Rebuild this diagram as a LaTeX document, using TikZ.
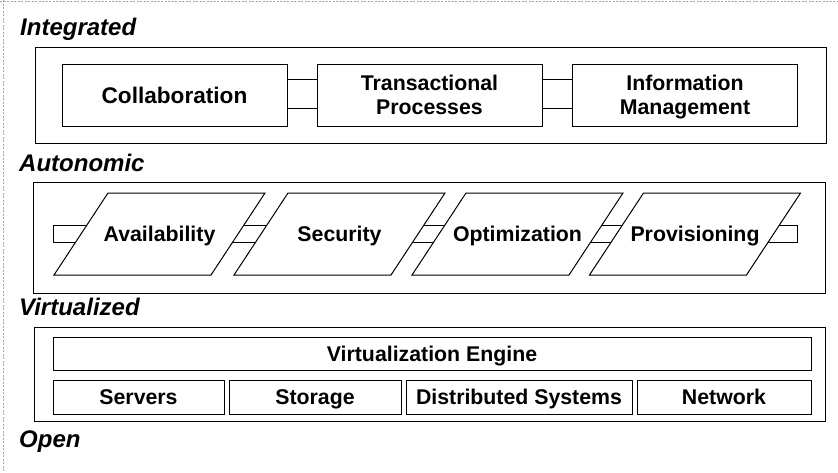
\documentclass[tikz,border=0pt]{standalone}
\usepackage{fontspec}
\setmainfont{Liberation Sans}
\usetikzlibrary{calc}
\begin{document}
\begin{tikzpicture}[x=1pt,y=-1pt,
  frame/.style={draw, line width=1pt},
  layer/.style={font=\fontsize{24}{28}\selectfont\bfseries\itshape, anchor=base west, inner sep=0},
  box/.style={draw, line width=1pt, font=\fontsize{21.3}{24}\selectfont\bfseries, align=center, inner sep=0, text depth=0pt},
  oneline/.style={text height=15.3pt},
  ptext/.style={font=\fontsize{21.3}{24}\selectfont\bfseries, inner sep=0, text height=15.3pt, text depth=0pt},
  pipe/.style={line width=1pt},
  edgeline/.style={gray!70, line width=0.5pt, dash pattern=on 2pt off 1.5pt},
]
\useasboundingbox (0,0) rectangle (838,472);

% faint page edges
\draw[edgeline] (0,1.5) -- (838,1.5);
\draw[edgeline] (3,0) -- (3,472);

% ---------------- Integrated ----------------
\node[layer] (lint) at (20,35) {Integrated};
\draw[frame] (35,47) rectangle (826,143);
\node[box, oneline, minimum width=225, minimum height=62, font=\fontsize{22.6}{24}\selectfont\bfseries, text height=16.2pt] (collab) at (174.5,95) {Collaboration};
\node[box, minimum width=225, minimum height=62] (trans) at (429.5,95) {Transactional\\Processes};
\node[box, minimum width=225, minimum height=62] (info) at (685,95) {Information\\Management};
\foreach \a/\b in {collab/trans, trans/info} {
  \draw[pipe] (\a.east |- 0,79.5) -- (\b.west |- 0,79.5);
  \draw[pipe] (\a.east |- 0,108) -- (\b.west |- 0,108);
}

% ---------------- Autonomic ----------------
\node[layer] (laut) at (19,171) {Autonomic};
\draw[frame] (33,182) rectangle (825,293);
\node[ptext] (avail)  at (159.5,234) {Availability};
\node[ptext] (secur)  at (339.5,234) {Security};
\node[ptext] (optim)  at (517.5,234) {Optimization};
\node[ptext] (provis) at (695,234)   {Provisioning};
\foreach \n in {avail, secur, optim, provis} {
  \draw[frame] ($(\n)+(-51.5,-41)$) -- ++(157,0) -- ++(-54,82) -- ++(-157,0) -- cycle;
}
\foreach \a/\b in {avail/secur, secur/optim, optim/provis} {
  \draw[pipe] ($(\a)+(84.4,-9)$) -- ($(\b)+(-72.6,-9)$);
  \draw[pipe] ($(\a)+(73.2,8)$) -- ($(\b)+(-83.8,8)$);
}
\coordinate (stubL) at (53,234);
\coordinate (stubR) at (797,234);
\draw[pipe] ($(avail)+(-72.6,-9)$) -- (stubL |- 0,225) -- (stubL |- 0,242) -- ($(avail)+(-83.8,8)$);
\draw[pipe] ($(provis)+(84.4,-9)$) -- (stubR |- 0,225) -- (stubR |- 0,242) -- ($(provis)+(73.2,8)$);

% ---------------- Virtualized ----------------
\node[layer] (lvir) at (19,315) {Virtualized};
\draw[frame] (34,327) rectangle (825,421);
\node[box, oneline, minimum width=758, minimum height=33] (engine) at (432,354) {Virtualization Engine};
\node[box, oneline, minimum width=171, minimum height=34] (servers) at (138.5,397) {Servers};
\node[box, oneline, minimum width=172, minimum height=34] (storage) at (315,397) {Storage};
\node[box, oneline, minimum width=226, minimum height=34] (dist) at (519,397) {Distributed Systems};
\node[box, oneline, minimum width=174, minimum height=34] (network) at (724,397) {Network};

% ---------------- Open ----------------
\node[layer] (lopen) at (19,447) {Open};
\end{tikzpicture}
\end{document}
